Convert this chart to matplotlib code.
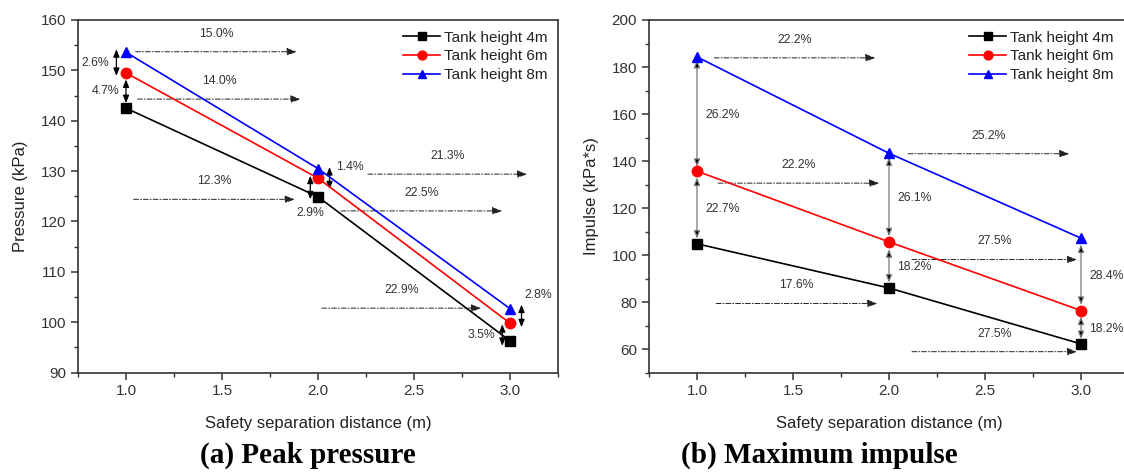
import numpy as np
import matplotlib.pyplot as plt
from matplotlib.ticker import MultipleLocator

plt.rcParams["font.family"] = ["Liberation Sans", "DejaVu Sans"]

# data
distance = [1.0, 2.0, 3.0]
labels = ["Tank height 4m", "Tank height 6m", "Tank height 8m"]

pressure_4m = [142.5, 124.9, 96.3]
pressure_6m = [149.5, 128.6, 99.8]
pressure_8m = [153.6, 130.5, 102.7]

impulse_4m = [104.8, 86.0, 62.2]
impulse_6m = [135.7, 105.6, 76.4]
impulse_8m = [184.3, 143.3, 107.2]

# horizontal change arrows: (label, x start, x end, y)
pressure_h = [("15.0%", 1.05, 1.89, 153.7), ("14.0%", 1.06, 1.91, 144.3),
              ("12.3%", 1.04, 1.88, 124.4), ("21.3%", 2.26, 3.09, 129.4),
              ("22.5%", 2.12, 2.96, 122.1), ("22.9%", 2.02, 2.85, 102.8)]
impulse_h = [("22.2%", 1.09, 1.93, 183.9), ("22.2%", 1.11, 1.95, 130.6),
             ("25.2%", 2.10, 2.94, 143.1), ("27.5%", 2.12, 2.98, 98.1),
             ("17.6%", 1.10, 1.94, 79.4), ("27.5%", 2.12, 2.98, 58.9)]

# vertical change arrows: (label, x, y top, y bottom, text side)
pressure_v = [("2.6%", 0.95, 154.2, 148.9, "left"), ("4.7%", 1.0, 148.2, 143.5, "left"),
              ("1.4%", 2.06, 130.8, 126.4, "right_top"), ("2.9%", 1.96, 129.1, 124.4, "below"),
              ("2.8%", 3.06, 103.5, 99.0, "above_right"), ("3.5%", 2.96, 99.6, 95.3, "left")]
impulse_v = [("26.2%", 1.0, 183.0, 137.5, "right"), ("22.7%", 1.0, 133.0, 107.0, "right"),
             ("26.1%", 2.0, 141.5, 108.0, "right"), ("18.2%", 2.0, 102.5, 88.3, "right"),
             ("28.4%", 3.0, 104.5, 78.8, "right"), ("18.2%", 3.0, 73.8, 64.3, "right")]

colors = ["black", "red", "blue"]
markers = ["s", "o", "^"]

fig = plt.figure(figsize=(11.24, 4.74), dpi=100)
ax1 = fig.add_axes([78 / 1124, 1 - 372.6 / 474, 480 / 1124, 352.6 / 474])
ax2 = fig.add_axes([649 / 1124, 1 - 372.6 / 474, 480 / 1124, 352.6 / 474])

tick_col = "#333333"
txt = dict(fontsize=8.8, color="#333333")


def draw_panel(ax, series, ylim, ymajor, yminor, ylabel, h_arrows, v_arrows, v_col):
    for vals, lab, c, m in zip(series, labels, colors, markers):
        ax.plot(distance, vals, color=c, marker=m, markersize=7.5, lw=1.2, label=lab,
                zorder=4)
    ax.set_xlim(0.75, 3.25)
    ax.set_ylim(*ylim)
    ax.xaxis.set_major_locator(MultipleLocator(0.5))
    ax.xaxis.set_minor_locator(MultipleLocator(0.25))
    ax.yaxis.set_major_locator(MultipleLocator(ymajor))
    ax.yaxis.set_minor_locator(MultipleLocator(yminor))
    ax.xaxis.set_major_formatter(lambda v, p: f"{v:.1f}")
    ax.tick_params(which="both", direction="out", colors=tick_col, labelsize=11,
                   top=False, right=False)
    ax.tick_params(which="major", length=5, width=1.1)
    ax.tick_params(which="minor", length=3, width=1.0)
    for s in ax.spines.values():
        s.set_color(tick_col)
        s.set_linewidth(1.2)
    ax.set_xlabel("Safety separation distance (m)", fontsize=12, color="#222222",
                  labelpad=13)
    ax.set_ylabel(ylabel, fontsize=12, color="#222222", labelpad=9)

    # horizontal arrows
    for lab, x0, x1, y in h_arrows:
        ax.annotate("", xy=(x1, y), xytext=(x0, y),
                    arrowprops=dict(arrowstyle="-|>,head_length=0.6,head_width=0.22",
                                    linestyle=(0, (5, 2, 1, 2)), lw=0.7,
                                    color="#222222", shrinkA=0, shrinkB=0))
        ax.annotate(lab, xy=((x0 + x1) / 2, y), xytext=(0, 13),
                    textcoords="offset points", ha="center", va="center", **txt)

    # vertical arrows
    for lab, x, y0, y1, side in v_arrows:
        ax.annotate("", xy=(x, y1), xytext=(x, y0),
                    arrowprops=dict(arrowstyle="<|-|>,head_length=0.45,head_width=0.18",
                                    lw=0.9, edgecolor=v_col, facecolor="black",
                                    shrinkA=0, shrinkB=0))
        ym = (y0 + y1) / 2
        if side == "left":
            ax.annotate(lab, xy=(x, ym), xytext=(-5, 0), textcoords="offset points",
                        ha="right", va="center", **txt)
        elif side == "right":
            ax.annotate(lab, xy=(x, ym), xytext=(6, -1), textcoords="offset points",
                        ha="left", va="center", **txt)
        elif side == "right_top":
            ax.annotate(lab, xy=(x, y0), xytext=(5, 0), textcoords="offset points",
                        ha="left", va="center", **txt)
        elif side == "below":
            ax.annotate(lab, xy=(x, y1), xytext=(0, -10), textcoords="offset points",
                        ha="center", va="center", **txt)
        elif side == "above_right":
            ax.annotate(lab, xy=(x, y0), xytext=(12, 7), textcoords="offset points",
                        ha="center", va="center", **txt)

    leg = ax.legend(loc="upper right", frameon=False, fontsize=11, handlelength=2.4,
                    handletextpad=0.25, labelspacing=0.3, borderaxespad=0.3,
                    markerscale=0.85)
    for t in leg.get_texts():
        t.set_color("#222222")


draw_panel(ax1, [pressure_4m, pressure_6m, pressure_8m], (90, 160), 10, 5,
           "Pressure (kPa)", pressure_h, pressure_v, "black")
draw_panel(ax2, [impulse_4m, impulse_6m, impulse_8m], (50, 200), 20, 10,
           "Impulse (kPa*s)", impulse_h, impulse_v, "#777777")

# the right legend sits inside the visible part of the clipped panel
ax2.get_legend().set_bbox_to_anchor((1124 / 1124, 1 - 20 / 474), transform=fig.transFigure)

fig.text(308 / 1124, 1 - 455 / 474, "(a) Peak pressure", ha="center", va="center",
         fontsize=21, fontweight="bold", family="Liberation Serif")
fig.text(819 / 1124, 1 - 455 / 474, "(b) Maximum impulse", ha="center", va="center",
         fontsize=21, fontweight="bold", family="Liberation Serif")

fig.savefig("out.png", dpi=100)
